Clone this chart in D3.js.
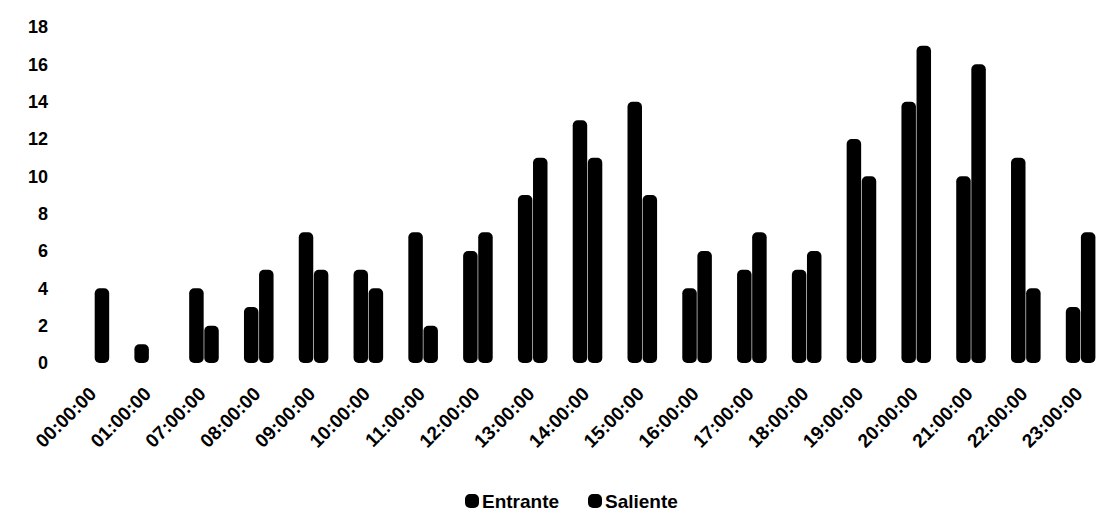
<!DOCTYPE html>
<html>
<head>
<meta charset="utf-8">
<script src="https://cdn.jsdelivr.net/npm/d3@7"></script>
<style>
  body { margin: 0; background: #fff; }
  svg { display: block; font-family: "Liberation Sans", Arial, sans-serif; font-weight: bold; }
</style>
</head>
<body>
<div id="chart"></div>
<script>
const hours = ["00:00:00", "01:00:00", "07:00:00", "08:00:00", "09:00:00", "10:00:00", "11:00:00",
    "12:00:00", "13:00:00", "14:00:00", "15:00:00", "16:00:00", "17:00:00", "18:00:00",
    "19:00:00", "20:00:00", "21:00:00", "22:00:00", "23:00:00"];
const entrante = [0, 1, 4, 3, 7, 5, 7, 6, 9, 13, 14, 4, 5, 5, 12, 14, 10, 11, 3];
const saliente = [4, 0, 2, 5, 5, 4, 2, 7, 11, 11, 9, 6, 7, 6, 10, 17, 16, 4, 7];
const seriesNames = ["Entrante", "Saliente"];
const yTicks = [0, 2, 4, 6, 8, 10, 12, 14, 16, 18];

const data = hours.map((h, i) => ({ hour: h, Entrante: entrante[i], Saliente: saliente[i] }));

const width = 1104, height = 514;

const svg = d3.select("#chart")
    .append("svg")
    .attr("width", width)
    .attr("height", height);

// Scales
const x = d3.scaleBand()
    .domain(hours)
    .range([67, 1108])
    .paddingInner(0.46)
    .paddingOuter(0.23);

const x1 = d3.scaleBand()
    .domain(seriesNames)
    .range([0, x.bandwidth()])
    .paddingInner(0.04);

const y = d3.scaleLinear()
    .domain([0, 18])
    .range([363, 27]);

// Y labels (no axis line)
svg.append("g")
    .selectAll("text")
    .data(yTicks)
    .join("text")
    .attr("x", 48)
    .attr("y", d => y(d))
    .attr("dy", "0.35em")
    .attr("text-anchor", "end")
    .style("font-size", "18px")
    .text(d => d);

// Bars
svg.append("g")
    .selectAll("g")
    .data(data)
    .join("g")
    .attr("transform", d => `translate(${x(d.hour)},0)`)
    .selectAll("rect")
    .data(d => seriesNames.map(k => ({ key: k, value: d[k] })).filter(d => d.value > 0))
    .join("rect")
    .attr("x", d => x1(d.key))
    .attr("y", d => y(d.value))
    .attr("width", x1.bandwidth())
    .attr("height", d => y(0) - y(d.value))
    .attr("rx", 5)
    .attr("fill", "#000");

// X labels, rotated
svg.append("g")
    .selectAll("text")
    .data(hours)
    .join("text")
    .attr("transform", d => `translate(${x(d) + x.bandwidth() / 2 + 3},395) rotate(-45)`)
    .attr("text-anchor", "end")
    .style("font-size", "19px")
    .text(d => d);

// Legend
const legend = svg.append("g")
    .selectAll("g")
    .data([{ name: "Entrante", x: 465 }, { name: "Saliente", x: 588 }])
    .join("g")
    .attr("transform", d => `translate(${d.x},501)`);

legend.append("rect")
    .attr("x", 0)
    .attr("y", -7)
    .attr("width", 14)
    .attr("height", 14)
    .attr("rx", 5)
    .attr("fill", "#000");

legend.append("text")
    .attr("x", 17)
    .attr("dy", "0.35em")
    .style("font-size", "19px")
    .text(d => d.name);
</script>
</body>
</html>
